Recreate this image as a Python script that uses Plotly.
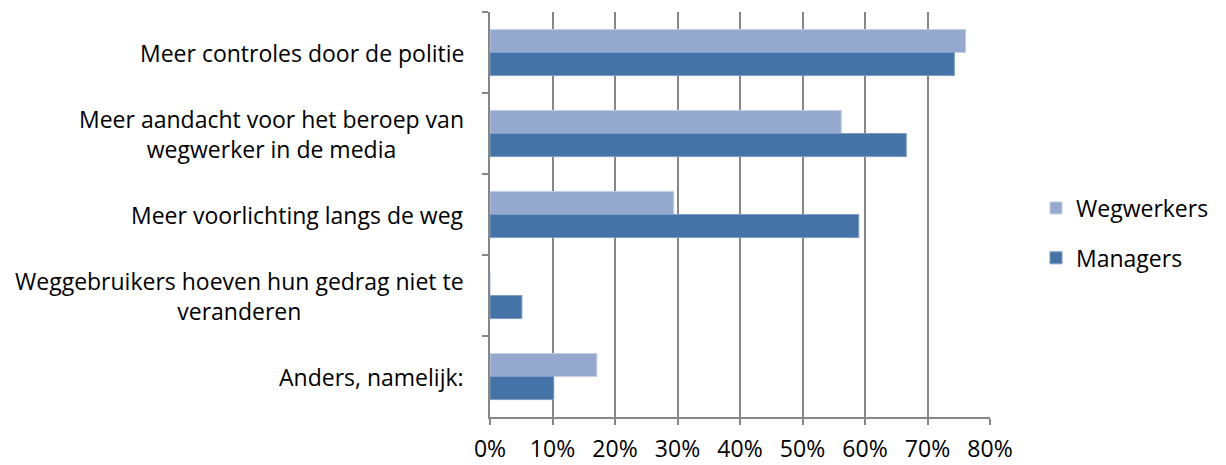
import plotly.graph_objects as go

categories = [
    "Meer controles door de politie",
    "Meer aandacht voor het beroep van<br>wegwerker in de media",
    "Meer voorlichting langs de weg",
    "Weggebruikers hoeven hun gedrag niet te<br>veranderen",
    "Anders, namelijk:",
]
wegwerkers = [76.1, 56.2, 29.4, 0.0, 17.1]
managers = [74.3, 66.6, 59.0, 5.1, 10.2]
x_ticks = [0, 10, 20, 30, 40, 50, 60, 70, 80]
x_tick_labels = [f"{v}%" for v in x_ticks]

FONT = "Open Sans, Calibri, Carlito, sans-serif"
FSIZE = 23
GRID = "#878787"

fig = go.Figure()
fig.add_trace(go.Bar(
    y=categories, x=wegwerkers, name="Wegwerkers", orientation="h",
    legendgroup="w",
    marker=dict(color="#95A9CF", line=dict(color="#C3D0E6", width=1)),
))
fig.add_trace(go.Bar(
    y=categories, x=managers, name="Managers", orientation="h",
    legendgroup="m",
    marker=dict(color="#4573A7", line=dict(color="#7E9CC4", width=1)),
))

# Category labels as centred multi-line text to the left of the axis
for cat in categories:
    fig.add_annotation(
        x=0, xref="paper", y=cat, yref="y", text=cat,
        xanchor="right", yanchor="middle", align="center",
        xshift=-24, showarrow=False,
        font=dict(family=FONT, size=FSIZE, color="#000000"),
    )

fig.update_layout(
    width=1226, height=465,
    margin=dict(l=490, r=236, t=12, b=48, autoexpand=False),
    paper_bgcolor="white", plot_bgcolor="white",
    barmode="group", bargap=0.43, bargroupgap=0,
    font=dict(family=FONT, size=FSIZE, color="#000000"),
    showlegend=True,
    legend=dict(
        xref="container", yref="container",
        x=1036 / 1226, y=0.499, xanchor="left", yanchor="middle",
        traceorder="grouped", itemwidth=30,
        font=dict(family=FONT, size=FSIZE, color="#000000"),
        tracegroupgap=17, bgcolor="rgba(0,0,0,0)",
    ),
)
fig.update_xaxes(
    range=[0, 80], tickmode="array", tickvals=x_ticks, ticktext=x_tick_labels,
    showgrid=True, gridcolor=GRID, gridwidth=2,
    showline=True, linecolor=GRID, linewidth=2,
    ticks="outside", ticklen=6, tickcolor=GRID, tickwidth=2,
    ticklabelstandoff=4, zeroline=False, automargin=False,
    tickfont=dict(family=FONT, size=FSIZE, color="#000000"),
)
fig.update_yaxes(
    autorange="reversed", showticklabels=False,
    showline=True, linecolor=GRID, linewidth=2,
    ticks="outside", tickson="boundaries", ticklen=6,
    tickcolor=GRID, tickwidth=2, showgrid=False, automargin=False,
)

fig.write_html("out.html")
